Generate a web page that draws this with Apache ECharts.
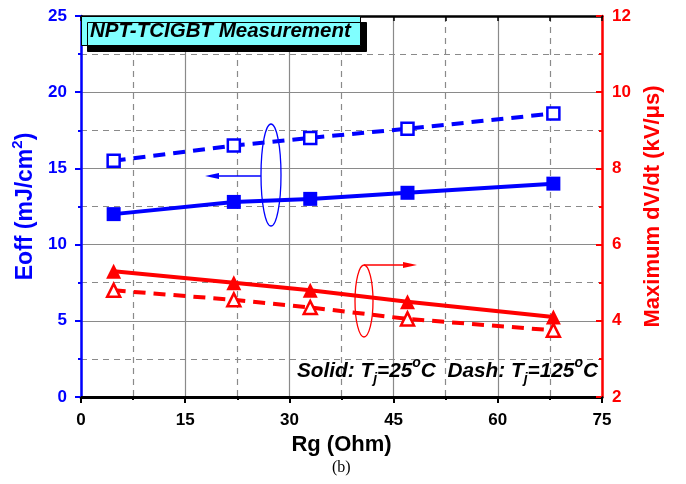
<!DOCTYPE html>
<html>
<head>
<meta charset="utf-8">
<script src="https://cdn.jsdelivr.net/npm/echarts@6/dist/echarts.min.js"></script>
<style>
  html, body { margin: 0; padding: 0; background: #fff; }
  #chart { width: 686px; height: 484px; }
</style>
</head>
<body>
<div id="chart"></div>
<script>
// gate resistance (Ohm)
const rg = [4.7, 22, 33, 47, 68]
// turn-off energy, mJ/cm2
const eoff25 = [12.0, 12.8, 13.0, 13.4, 14.0]
const eoff125 = [15.5, 16.5, 17.0, 17.6, 18.6]
// max dV/dt, kV/us
const dvdt25 = [5.3, 5.0, 4.8, 4.5, 4.1]
const dvdt125 = [4.8, 4.55, 4.35, 4.05, 3.75]

const FONT = 'Liberation Sans, Arial, sans-serif'
const BLUE = '#0000ff'
const RED = '#ff0000'
const GRID = '#8a8a8a'

const pairs = (xs, ys) => xs.map((x, i) => [x, ys[i]])

const chart = echarts.init(document.getElementById('chart'))

const option = {
  animation: false,
  title: {
    text: 'NPT-TCIGBT Measurement',
    left: 81,
    top: 16,
    padding: [5, 10, 5, 9],
    backgroundColor: '#80ffff',
    borderColor: '#000',
    borderWidth: 1,
    shadowColor: '#000',
    shadowBlur: 0,
    shadowOffsetX: 6,
    shadowOffsetY: 6,
    textStyle: {
      fontFamily: FONT,
      fontSize: 20.5,
      fontWeight: 'bold',
      fontStyle: 'italic',
      color: '#000'
    }
  },
  grid: { left: 81, right: 84, top: 16, bottom: 87 },
  xAxis: [
    {
      type: 'value',
      min: 0,
      max: 75,
      interval: 15,
      position: 'bottom',
      name: 'Rg (Ohm)',
      nameLocation: 'middle',
      nameGap: 30,
      nameTextStyle: { fontFamily: FONT, fontSize: 22, fontWeight: 'bold', color: '#000' },
      axisLine: { onZero: false, lineStyle: { color: '#000', width: 3 } },
      axisTick: { inside: false, length: 6, lineStyle: { color: '#000', width: 2 } },
      minorTick: { show: true, splitNumber: 2, length: 3, lineStyle: { color: '#000', width: 2 } },
      axisLabel: { margin: 15, fontFamily: FONT, fontSize: 17, fontWeight: 'bold', color: '#000' },
      splitLine: { show: true, lineStyle: { color: GRID, width: 1.2 } },
      minorSplitLine: { show: true, lineStyle: { color: GRID, width: 1.2, type: [6, 5] } }
    },
    {
      type: 'value',
      min: 0,
      max: 75,
      interval: 15,
      position: 'top',
      axisLine: { onZero: false, lineStyle: { color: '#000', width: 2.5 } },
      axisTick: { inside: true, length: 5, lineStyle: { color: '#000', width: 1.5 } },
      minorTick: { show: true, splitNumber: 2, length: 5, lineStyle: { color: '#000', width: 1.5 } },
      axisLabel: { show: false },
      splitLine: { show: false }
    }
  ],
  yAxis: [
    {
      type: 'value',
      min: 0,
      max: 25,
      interval: 5,
      position: 'left',
      name: '{a|Eoff (mJ/cm}{s|2}{a|)}',
      nameLocation: 'middle',
      nameGap: 38,
      nameTextStyle: {
        color: BLUE,
        rich: {
          a: { fontFamily: FONT, fontSize: 23, fontWeight: 'bold', color: BLUE, lineHeight: 30 },
          s: { fontFamily: FONT, fontSize: 15, fontWeight: 'bold', color: BLUE, lineHeight: 16, verticalAlign: 'top' }
        }
      },
      axisLine: { onZero: false, lineStyle: { color: BLUE, width: 2.5 } },
      axisTick: { inside: false, length: 6, lineStyle: { color: BLUE, width: 2 } },
      minorTick: { show: true, splitNumber: 2, length: 3, lineStyle: { color: BLUE, width: 2 } },
      axisLabel: { margin: 14, fontFamily: FONT, fontSize: 17, fontWeight: 'bold', color: BLUE },
      splitLine: { show: true, lineStyle: { color: GRID, width: 1.2 } },
      minorSplitLine: { show: true, lineStyle: { color: GRID, width: 1.2, type: [6, 5] } }
    },
    {
      type: 'value',
      min: 2,
      max: 12,
      interval: 2,
      position: 'right',
      name: 'Maximum dV/dt (kV/μs)',
      nameLocation: 'middle',
      nameGap: 40,
      nameTextStyle: { fontFamily: FONT, fontSize: 22, fontWeight: 'bold', color: RED },
      axisLine: { onZero: false, lineStyle: { color: RED, width: 2.5 } },
      axisTick: { inside: true, length: 6, lineStyle: { color: RED, width: 2 } },
      minorTick: { show: true, splitNumber: 2, length: 3, lineStyle: { color: RED, width: 2 } },
      axisLabel: { margin: 10, fontFamily: FONT, fontSize: 17, fontWeight: 'bold', color: RED },
      splitLine: { show: false }
    }
  ],
  series: [
    {
      name: 'Eoff 25C',
      type: 'line',
      yAxisIndex: 0,
      data: pairs(rg, eoff25),
      symbol: 'rect',
      symbolSize: 14,
      itemStyle: { color: BLUE },
      lineStyle: { color: BLUE, width: 4 }
    },
    {
      name: 'Eoff 125C',
      type: 'line',
      yAxisIndex: 0,
      data: pairs(rg, eoff125),
      symbol: 'rect',
      symbolSize: 12,
      itemStyle: { color: '#fff', borderColor: BLUE, borderWidth: 2.5 },
      lineStyle: { color: BLUE, width: 4, type: [12, 8] }
    },
    {
      name: 'dVdt 25C',
      type: 'line',
      yAxisIndex: 1,
      data: pairs(rg, dvdt25),
      symbol: 'triangle',
      symbolSize: 15,
      itemStyle: { color: RED },
      lineStyle: { color: RED, width: 4 }
    },
    {
      name: 'dVdt 125C',
      type: 'line',
      yAxisIndex: 1,
      data: pairs(rg, dvdt125),
      symbol: 'triangle',
      symbolSize: 13,
      itemStyle: { color: '#fff', borderColor: RED, borderWidth: 2.5 },
      lineStyle: { color: RED, width: 4, type: [12, 8] }
    }
  ],
  graphic: [
    // blue group marker: ellipse + arrow pointing to left axis
    {
      type: 'ellipse',
      shape: { cx: 271, cy: 175, rx: 10, ry: 51 },
      style: { fill: 'none', stroke: BLUE, lineWidth: 1.3 },
      z: 100
    },
    {
      type: 'line',
      shape: { x1: 261, y1: 176, x2: 210, y2: 176 },
      style: { stroke: BLUE, lineWidth: 1.3 },
      z: 100
    },
    {
      type: 'polygon',
      shape: { points: [[205, 176], [219, 173], [219, 179]] },
      style: { fill: BLUE },
      z: 100
    },
    // red group marker: ellipse + arrow pointing to right axis
    {
      type: 'ellipse',
      shape: { cx: 364, cy: 301, rx: 9, ry: 36 },
      style: { fill: 'none', stroke: RED, lineWidth: 1.3 },
      z: 100
    },
    {
      type: 'line',
      shape: { x1: 364, y1: 265, x2: 410, y2: 265 },
      style: { stroke: RED, lineWidth: 1.3 },
      z: 100
    },
    {
      type: 'polygon',
      shape: { points: [[417, 265], [403, 262], [403, 268]] },
      style: { fill: RED },
      z: 100
    },
    {
      type: 'text',
      right: 88,
      top: 356,
      z: 100,
      style: {
        text: '{a|Solid: T}{b|j}{a|=25}{c|o}{a|C  Dash: T}{b|j}{a|=125}{c|o}{a|C}',
        rich: {
          a: { fontFamily: FONT, fontSize: 20.8, fontWeight: 'bold', fontStyle: 'italic', fill: '#000', lineHeight: 30 },
          b: { fontFamily: FONT, fontSize: 14, fontWeight: 'bold', fontStyle: 'italic', fill: '#000', lineHeight: 15, verticalAlign: 'bottom' },
          c: { fontFamily: FONT, fontSize: 14, fontWeight: 'bold', fontStyle: 'italic', fill: '#000', lineHeight: 15, verticalAlign: 'top' }
        }
      }
    },
    {
      type: 'text',
      left: 332,
      top: 460,
      style: {
        text: '(b)',
        fontFamily: 'Liberation Serif, Times New Roman, serif',
        fontSize: 16,
        fill: '#000'
      }
    }
  ]
}

chart.setOption(option)
</script>
</body>
</html>
